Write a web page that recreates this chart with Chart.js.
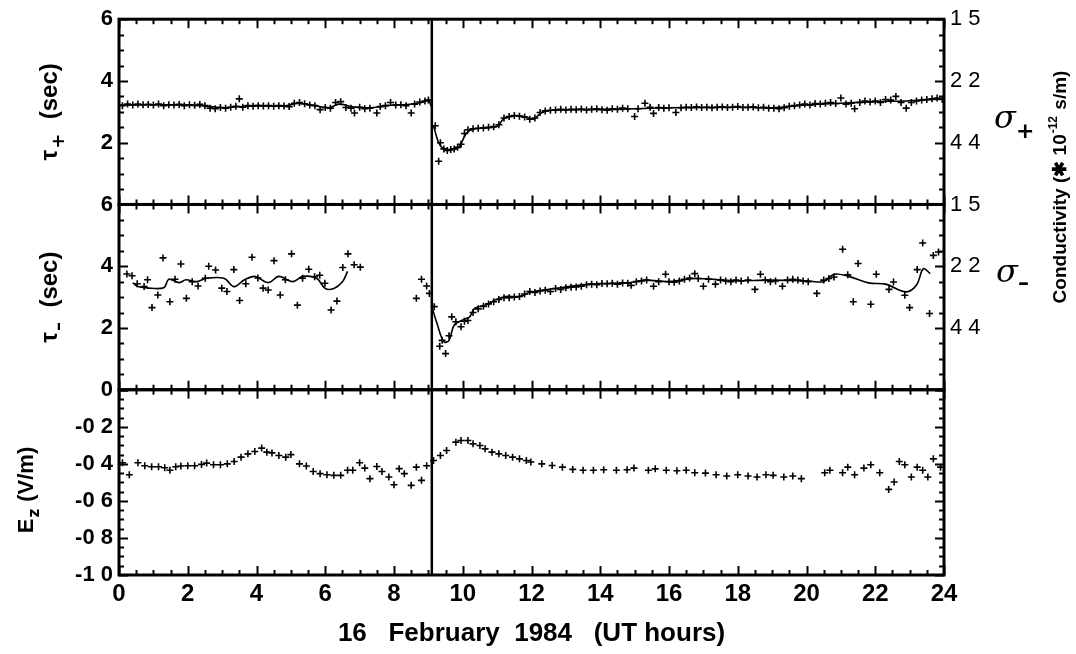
<!DOCTYPE html>
<html>
<head>
<meta charset="utf-8">
<script src="https://cdn.jsdelivr.net/npm/chart.js@4.4.0/dist/chart.umd.min.js"></script>
<style>
  body { margin: 0; background: #fff; }
  #wrap { width: 1076px; height: 654px; }
</style>
</head>
<body>
<div id="wrap"><canvas id="chart" width="1076" height="654"></canvas></div>
<script>
// ---- data, [UT hour, value] ----
// tau+ relaxation time (sec), before and after the 9.1 h event
var tauPlusPre = [
  [0.1,3.2],[0.25,3.25],[0.4,3.22],[0.55,3.25],[0.7,3.23],[0.85,3.24],[1.0,3.22],[1.15,3.25],
  [1.3,3.2],[1.45,3.23],[1.6,3.22],[1.75,3.24],[1.9,3.2],[2.05,3.23],[2.2,3.21],[2.35,3.24],
  [2.5,3.2],[2.65,3.12],[2.8,3.1],[2.95,3.14],[3.1,3.12],[3.25,3.15],[3.4,3.18],[3.5,3.42],
  [3.6,3.15],[3.75,3.2],[3.9,3.18],[4.05,3.2],[4.2,3.19],[4.35,3.2],[4.5,3.18],[4.65,3.2],
  [4.8,3.19],[4.95,3.17],[5.1,3.28],[5.25,3.3],[5.4,3.26],[5.55,3.22],[5.7,3.2],[5.85,3.07],
  [6.0,3.14],[6.15,3.12],[6.3,3.3],[6.45,3.33],[6.6,3.14],[6.75,3.12],[6.85,2.96],[7.0,3.15],
  [7.15,3.1],[7.3,3.12],[7.5,2.96],[7.6,3.17],[7.75,3.2],[7.9,3.3],[8.05,3.22],[8.2,3.23],
  [8.35,3.2],[8.5,2.96],[8.6,3.25],[8.75,3.32],[8.9,3.35],[9.0,3.38]
];
var tauPlusPost = [
  [9.2,2.55],[9.3,1.4],[9.35,2.0],[9.45,1.8],[9.55,1.75],[9.65,1.78],[9.75,1.8],[9.85,1.85],
  [9.95,1.95],[10.05,2.3],[10.15,2.42],[10.3,2.45],[10.45,2.47],[10.6,2.48],[10.75,2.5],[10.9,2.52],
  [11.05,2.58],[11.2,2.8],[11.35,2.85],[11.5,2.88],[11.65,2.86],[11.8,2.83],[11.95,2.76],[12.1,2.8],
  [12.25,2.98],[12.4,3.03],[12.55,3.05],[12.7,3.06],[12.85,3.08],[13.0,3.06],[13.15,3.08],[13.3,3.07],
  [13.45,3.09],[13.6,3.06],[13.75,3.08],[13.9,3.1],[14.05,3.07],[14.2,3.05],[14.35,3.1],[14.5,3.08],
  [14.65,3.12],[14.8,3.1],[15.0,2.85],[15.1,3.1],[15.3,3.28],[15.45,3.15],[15.55,2.95],[15.7,3.14],
  [15.85,3.12],[16.0,3.13],[16.2,2.98],[16.35,3.13],[16.5,3.15],[16.65,3.14],[16.8,3.16],[16.95,3.14],
  [17.1,3.15],[17.25,3.13],[17.4,3.15],[17.55,3.16],[17.7,3.14],[17.85,3.15],[18.0,3.17],[18.15,3.14],
  [18.3,3.15],[18.45,3.16],[18.6,3.13],[18.75,3.15],[18.9,3.12],[19.05,3.12],[19.2,3.1],[19.35,3.13],
  [19.5,3.18],[19.65,3.2],[19.8,3.22],[19.95,3.25],[20.1,3.22],[20.25,3.27],[20.4,3.25],[20.55,3.28],
  [20.7,3.3],[20.85,3.27],[21.0,3.45],[21.15,3.25],[21.3,3.28],[21.4,3.1],[21.55,3.3],[21.7,3.35],
  [21.85,3.32],[22.0,3.35],[22.15,3.3],[22.3,3.4],[22.45,3.38],[22.6,3.5],[22.75,3.3],[22.9,3.12],
  [23.05,3.3],[23.2,3.35],[23.35,3.38],[23.5,3.4],[23.65,3.42],[23.8,3.45],[23.95,3.4]
];
var tauPlusFitPre = [
  [0,3.22],[1,3.23],[2,3.22],[2.6,3.18],[3.0,3.13],[3.4,3.16],[4,3.2],[4.8,3.19],[5.2,3.27],
  [5.6,3.22],[6.1,3.13],[6.4,3.25],[6.8,3.16],[7.3,3.13],[7.8,3.2],[8.4,3.24],[8.8,3.3],[9.0,3.38],[9.08,3.18]
];
var tauPlusFitPost = [
  [9.15,2.55],[9.3,2.0],[9.45,1.8],[9.7,1.77],[9.9,1.88],[10.1,2.3],[10.3,2.44],[10.7,2.48],
  [11.0,2.53],[11.2,2.78],[11.5,2.87],[11.8,2.84],[12.05,2.76],[12.3,2.98],[12.8,3.06],[14,3.08],
  [15,3.1],[16,3.13],[17,3.14],[18,3.15],[19,3.13],[20,3.22],[21,3.28],[22,3.33],[23,3.36],[24,3.42]
];

// tau- relaxation time (sec)
var tauMinusPre = [
  [0.23,3.75],[0.38,3.69],[0.53,3.43],[0.73,3.34],[0.83,3.56],[0.96,2.66],[1.13,3.07],[1.28,4.27],
  [1.48,2.85],[1.63,3.58],[1.8,4.07],[1.96,2.96],[2.13,3.5],[2.3,3.36],[2.51,3.61],[2.61,4.0],
  [2.81,3.88],[2.99,3.29],[3.14,3.18],[3.34,3.89],[3.51,2.89],[3.69,3.43],[3.87,4.29],[4.04,3.62],
  [4.19,3.29],[4.34,3.23],[4.51,4.18],[4.69,3.07],[4.84,3.56],[5.02,4.4],[5.19,2.74],[5.34,3.61],
  [5.52,3.9],[5.69,3.66],[5.84,3.71],[5.99,3.45],[6.17,2.58],[6.34,2.87],[6.51,3.96],[6.66,4.4],
  [6.84,4.05],[7.02,3.97],[8.65,2.96],[8.8,3.58],[8.95,3.36],[9.03,3.12]
];
var tauMinusPost = [
  [9.17,2.69],[9.33,1.41],[9.4,1.6],[9.5,1.17],[9.6,1.75],[9.68,2.36],[9.8,2.2],[9.95,2.04],
  [10.05,2.22],[10.15,2.24],[10.3,2.5],[10.45,2.62],[10.6,2.7],[10.75,2.78],[10.9,2.85],[11.05,2.92],
  [11.2,2.98],[11.35,2.98],[11.5,3.0],[11.65,3.02],[11.8,3.1],[11.95,3.18],[12.1,3.15],[12.25,3.2],
  [12.4,3.22],[12.55,3.18],[12.7,3.28],[12.85,3.25],[13.0,3.3],[13.15,3.32],[13.3,3.33],[13.45,3.35],
  [13.6,3.4],[13.75,3.42],[13.9,3.4],[14.05,3.44],[14.2,3.43],[14.35,3.45],[14.5,3.42],[14.65,3.46],
  [14.8,3.45],[14.9,3.38],[15.05,3.5],[15.2,3.52],[15.35,3.55],[15.55,3.35],[15.7,3.5],[15.9,3.74],
  [16.0,3.5],[16.15,3.48],[16.3,3.52],[16.45,3.58],[16.6,3.62],[16.75,3.76],[16.85,3.6],[17.0,3.35],
  [17.15,3.58],[17.35,3.42],[17.5,3.55],[17.65,3.52],[17.8,3.5],[17.95,3.55],[18.1,3.52],[18.3,3.55],
  [18.5,3.25],[18.66,3.74],[18.8,3.55],[18.95,3.5],[19.1,3.52],[19.3,3.35],[19.45,3.55],[19.6,3.58],
  [19.75,3.55],[19.9,3.52],[20.05,3.5],[20.3,3.12],[20.5,3.55],[20.65,3.6],[20.8,3.65],[21.05,4.55],
  [21.2,3.72],[21.36,2.85],[21.5,4.09],[21.87,2.77],[22.03,3.74],[22.4,3.25],[22.53,3.49],[22.86,3.06],
  [23.0,2.66],[23.22,3.89],[23.38,4.75],[23.58,2.47],[23.69,4.35],[23.84,4.46]
];
var tauMinusFitPre = [
  [0.4,3.47],[0.55,3.34],[0.8,3.3],[1.3,3.3],[1.45,3.58],[1.75,3.47],[1.95,3.56],[2.25,3.5],
  [2.55,3.61],[3.05,3.61],[3.35,3.34],[3.65,3.56],[3.95,3.67],[4.35,3.47],[4.65,3.67],[5.05,3.5],
  [5.35,3.67],[5.75,3.61],[6.0,3.28],[6.25,3.28],[6.5,3.5],[6.65,3.83]
];
var tauMinusFitPost = [
  [9.1,2.69],[9.25,2.15],[9.45,1.55],[9.6,1.6],[9.75,2.09],[10.0,2.26],[10.2,2.36],[10.35,2.64],
  [10.65,2.74],[10.95,2.91],[11.25,3.02],[11.65,3.02],[11.95,3.15],[12.7,3.28],[13.7,3.42],[14.8,3.46],
  [15.3,3.55],[16.0,3.5],[16.75,3.6],[17.9,3.53],[18.9,3.55],[20.0,3.53],[20.5,3.5],[20.8,3.74],
  [21.2,3.68],[21.8,3.46],[22.3,3.42],[22.9,3.17],[23.2,3.39],[23.4,3.92],[23.6,3.76]
];

// vertical field Ez (V/m)
var ezPoints = [
  [0.1,-0.394],[0.3,-0.459],[0.55,-0.394],[0.75,-0.41],[0.95,-0.416],[1.15,-0.416],[1.33,-0.421],[1.48,-0.435],
  [1.65,-0.416],[1.8,-0.412],[2.0,-0.41],[2.2,-0.41],[2.4,-0.403],[2.55,-0.396],[2.75,-0.405],[2.95,-0.405],
  [3.15,-0.4],[3.35,-0.387],[3.55,-0.364],[3.75,-0.346],[3.95,-0.333],[4.15,-0.315],[4.3,-0.337],[4.45,-0.341],
  [4.65,-0.355],[4.85,-0.364],[5.0,-0.35],[5.25,-0.4],[5.45,-0.412],[5.65,-0.441],[5.85,-0.453],[6.05,-0.459],
  [6.25,-0.462],[6.45,-0.462],[6.65,-0.435],[6.8,-0.435],[7.0,-0.394],[7.15,-0.423],[7.3,-0.48],[7.5,-0.414],
  [7.65,-0.441],[7.85,-0.471],[8.0,-0.513],[8.15,-0.426],[8.3,-0.453],[8.5,-0.516],[8.65,-0.418],[8.8,-0.489],
  [8.95,-0.41],[9.15,-0.382],[9.35,-0.355],[9.53,-0.328],[9.8,-0.283],[9.95,-0.274],[10.15,-0.274],[10.3,-0.292],
  [10.5,-0.301],[10.65,-0.319],[10.85,-0.337],[11.05,-0.346],[11.25,-0.355],[11.45,-0.364],[11.65,-0.373],[11.85,-0.382],
  [11.98,-0.39],[12.3,-0.4],[12.6,-0.409],[12.9,-0.418],[13.2,-0.43],[13.5,-0.435],[13.8,-0.435],[14.1,-0.432],
  [14.47,-0.435],[14.78,-0.432],[14.98,-0.423],[15.4,-0.435],[15.6,-0.427],[15.92,-0.435],[16.23,-0.437],[16.5,-0.435],
  [16.75,-0.448],[17.06,-0.45],[17.37,-0.459],[17.68,-0.466],[18.0,-0.459],[18.3,-0.466],[18.56,-0.471],[18.82,-0.459],
  [19.03,-0.462],[19.34,-0.471],[19.6,-0.466],[19.85,-0.48],[20.53,-0.448],[20.68,-0.435],[21.05,-0.448],[21.2,-0.418],
  [21.4,-0.459],[21.67,-0.423],[21.87,-0.405],[22.13,-0.448],[22.39,-0.538],[22.55,-0.498],[22.7,-0.387],[22.86,-0.405],
  [23.05,-0.471],[23.22,-0.418],[23.38,-0.435],[23.53,-0.471],[23.69,-0.373],[23.9,-0.418]
];

var eventHour = 9.1;

// tick labels [value, text]
var tauTicksTop = [[6,'6'],[4,'4'],[2,'2']];
var tauTicksMid = [[6,'6'],[4,'4'],[2,'2'],[0,'0']];
var ezTicks = [[-0.2,'-0 2'],[-0.4,'-0 4'],[-0.6,'-0 6'],[-0.8,'-0 8'],[-1.0,'-1 0']];
var condTicks = [[6,'1 5'],[4,'2 2'],[2,'4 4']];
var hourTicks = [0,2,4,6,8,10,12,14,16,18,20,22,24];

var black = '#000';
Chart.defaults.font.family = '"Liberation Sans", Arial, sans-serif';
Chart.defaults.color = black;

function pts(pairs) {
    return pairs.map(function (p) { return {x: p[0], y: p[1]}; });
}

function scatterSet(pairs, axis) {
    return {type: 'scatter', data: pts(pairs), yAxisID: axis, pointStyle: 'cross',
        pointRadius: 3.5, pointBorderWidth: 1.6, borderColor: black, backgroundColor: black};
}

function lineSet(pairs, axis) {
    return {type: 'line', data: pts(pairs), yAxisID: axis, showLine: true, pointRadius: 0,
        borderColor: black, borderWidth: 1.6, tension: 0.35, fill: false};
}

function fixedTicks(list) {
    return function (scale) {
        scale.ticks = list.map(function (t) { return {value: t[0]}; });
    };
}

function labelOf(list) {
    return function (v) {
        for (var i = 0; i < list.length; i++) {
            if (Math.abs(list[i][0] - v) < 1e-6) return list[i][1];
        }
        return '';
    };
}

// left stack is laid out in reverse, so the top panel gets the highest weight
function leftAxis(min, max, list, weight) {
    return {
        type: 'linear', position: 'left', stack: 'left', stackWeight: 1, weight: weight,
        min: min, max: max,
        grid: {display: false, drawTicks: false}, border: {display: false},
        afterBuildTicks: fixedTicks(list),
        ticks: {autoSkip: false, callback: labelOf(list), padding: 6, color: black,
            font: {size: 22, weight: 'bold'}},
        afterFit: function (s) { s.width = 119; }
    };
}

function rightAxis(list, weight) {
    return {
        type: 'linear', position: 'right', stack: 'right', stackWeight: 1, weight: weight,
        min: 0, max: 6,
        grid: {display: false, drawTicks: false}, border: {display: false},
        afterBuildTicks: fixedTicks(list),
        ticks: {autoSkip: false, display: list.length > 0, callback: labelOf(list), padding: 6,
            color: black, font: {size: 22}},
        afterFit: function (s) { s.width = 132; }
    };
}

// rotated title with one subscript: main, sub, rest
function sideTitle(ctx, cx, cy, main, sub, rest, big, small, drop) {
    ctx.save();
    ctx.translate(cx, cy);
    ctx.rotate(-Math.PI / 2);
    ctx.textAlign = 'left';
    ctx.textBaseline = 'middle';
    var fb = 'bold ' + big + 'px "Liberation Sans"', fs = 'bold ' + small + 'px "DejaVu Sans"';
    ctx.font = fb;
    var w1 = ctx.measureText(main).width, w3 = ctx.measureText(rest).width;
    ctx.font = fs;
    var w2 = ctx.measureText(sub).width;
    var u = -(w1 + w2 + w3 + 2) / 2;
    ctx.font = fb;
    ctx.fillText(main, u, 0);
    ctx.fillText(rest, u + w1 + w2 + 2, 0);
    ctx.font = fs;
    ctx.fillText(sub, u + w1 + 1, drop);
    ctx.restore();
}

// frame, inward ticks, event line and the extra labels
var framePlugin = {
    id: 'frame',
    afterDraw: function (chart) {
        var ctx = chart.ctx, ca = chart.chartArea, sc = chart.scales, x = sc.x;
        var panels = [
            {s: sc.yT1, minor: 0.5, major: 2},
            {s: sc.yT2, minor: 0.5, major: 2},
            {s: sc.yEz, minor: 0.05, major: 0.2}
        ];
        ctx.save();
        ctx.strokeStyle = black;
        ctx.fillStyle = black;

        // y ticks on both sides
        ctx.lineWidth = 2;
        panels.forEach(function (p) {
            var min = p.s.min, n = Math.round((p.s.max - min) / p.minor);
            for (var i = 0; i <= n; i++) {
                var v = min + i * p.minor;
                var r = v / p.major;
                var len = Math.abs(r - Math.round(r)) < 1e-6 ? 9 : 5;
                var py = Math.round(p.s.getPixelForValue(v)) + 0.5;
                ctx.beginPath();
                ctx.moveTo(ca.left, py); ctx.lineTo(ca.left + len, py);
                ctx.moveTo(ca.right, py); ctx.lineTo(ca.right - len, py);
                ctx.stroke();
            }
        });

        // x ticks on every horizontal edge
        var edges = [
            {y: sc.yT1.top, up: 0, down: 1},
            {y: sc.yT1.bottom, up: 1, down: 1},
            {y: sc.yT2.bottom, up: 1, down: 1},
            {y: sc.yEz.bottom, up: 1, down: 0}
        ];
        for (var h = 0; h <= 48; h++) {
            var px = Math.round(x.getPixelForValue(h * 0.5)) + 0.5;
            var len = h % 4 === 0 ? 9 : 5;
            edges.forEach(function (e) {
                ctx.beginPath();
                ctx.moveTo(px, e.y - len * e.up);
                ctx.lineTo(px, e.y + len * e.down);
                ctx.stroke();
            });
        }

        // panel frames
        ctx.lineWidth = 3;
        panels.forEach(function (p) {
            ctx.strokeRect(ca.left, p.s.top, ca.right - ca.left, p.s.bottom - p.s.top);
        });

        // event line
        var ex = x.getPixelForValue(eventHour);
        ctx.lineWidth = 2.5;
        ctx.beginPath();
        ctx.moveTo(ex, ca.top); ctx.lineTo(ex, ca.bottom);
        ctx.stroke();

        // sigma labels
        ctx.textBaseline = 'alphabetic';
        ctx.textAlign = 'left';
        ctx.font = 'italic 32px "DejaVu Serif"';
        ctx.fillText('σ', 994, 128);
        ctx.fillText('σ', 996, 282);
        ctx.font = 'bold 22px "DejaVu Sans"';
        ctx.fillText('+', 1016, 138);
        ctx.fillText('–', 1018, 290);

        // left titles
        var t1 = (sc.yT1.top + sc.yT1.bottom) / 2, t2 = (sc.yT2.top + sc.yT2.bottom) / 2;
        sideTitle(ctx, 50, t1, 'τ', '+', '  (sec)', 24, 18, 9);
        sideTitle(ctx, 50, t2, 'τ', '–', '  (sec)', 24, 18, 9);
        sideTitle(ctx, 27, 490, 'E', 'z', ' (V/m)', 22, 15, 8);

        // conductivity title, rotated
        ctx.save();
        ctx.translate(1066, 188);
        ctx.rotate(-Math.PI / 2);
        var a = 'Conductivity (\u2731 10', b = '-12', c = ' s/m)';
        ctx.font = 'bold 19px "Liberation Sans"';
        var wa = ctx.measureText(a).width, wc = ctx.measureText(c).width;
        ctx.font = 'bold 12px "Liberation Sans"';
        var wb = ctx.measureText(b).width;
        var s0 = -(wa + wb + wc) / 2;
        ctx.font = 'bold 19px "Liberation Sans"';
        ctx.fillText(a, s0, 0);
        ctx.font = 'bold 12px "Liberation Sans"';
        ctx.fillText(b, s0 + wa + 1, -9);
        ctx.font = 'bold 19px "Liberation Sans"';
        ctx.fillText(c, s0 + wa + wb + 2, 0);
        ctx.restore();

        ctx.restore();
    }
};

var chart = new Chart(document.getElementById('chart'), {
    data: {
        datasets: [
            scatterSet(tauPlusPre, 'yT1'),
            scatterSet(tauPlusPost, 'yT1'),
            lineSet(tauPlusFitPre, 'yT1'),
            lineSet(tauPlusFitPost, 'yT1'),
            scatterSet(tauMinusPre, 'yT2'),
            scatterSet(tauMinusPost, 'yT2'),
            lineSet(tauMinusFitPre, 'yT2'),
            lineSet(tauMinusFitPost, 'yT2'),
            scatterSet(ezPoints, 'yEz')
        ]
    },
    options: {
        responsive: false,
        animation: false,
        layout: {padding: {top: 19, left: 0, right: 0, bottom: 0}},
        plugins: {legend: {display: false}, tooltip: {enabled: false}},
        scales: {
            x: {
                type: 'linear', position: 'bottom', min: 0, max: 24,
                grid: {display: false, drawTicks: false}, border: {display: false},
                afterBuildTicks: function (s) {
                    s.ticks = hourTicks.map(function (v) { return {value: v}; });
                },
                ticks: {autoSkip: false, maxRotation: 0, padding: 5, color: black,
                    font: {size: 24, weight: 'bold'}},
                title: {display: true, text: '16   February  1984   (UT hours)', color: black,
                    font: {size: 26, weight: 'bold'}, padding: {top: 0, bottom: 5}},
                afterFit: function (s) { s.height = 79; }
            },
            yT1: leftAxis(0, 6, tauTicksTop, 3),
            yT2: leftAxis(0, 6, tauTicksMid, 2),
            yEz: leftAxis(-1, 0, ezTicks, 1),
            rT1: rightAxis(condTicks, 1),
            rT2: rightAxis(condTicks, 2),
            rEz: rightAxis([], 3)
        }
    },
    plugins: [framePlugin]
});
</script>
</body>
</html>
